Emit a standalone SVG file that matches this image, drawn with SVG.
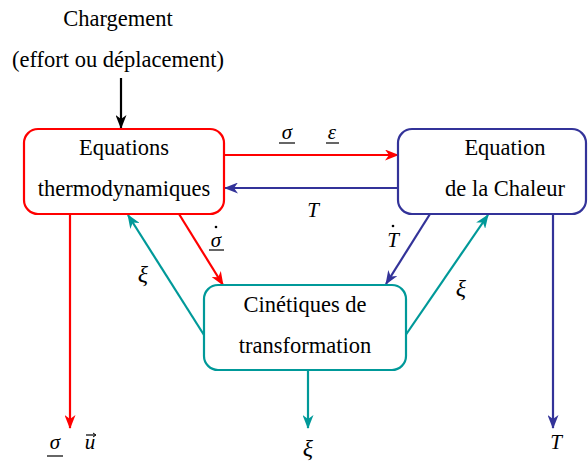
<svg xmlns="http://www.w3.org/2000/svg" width="588" height="462" viewBox="0 0 588 462">
<style>
.t{font-family:"Liberation Serif","Times New Roman",serif;font-size:22.5px;fill:#000;text-anchor:middle}
.m{font-family:"Liberation Serif","Times New Roman",serif;font-size:21px;font-style:italic;fill:#000;text-anchor:middle}
.x{font-size:24px}
.box{fill:#fff;stroke-width:2.2}
.ln{fill:none;stroke-width:2.2}
.ul{stroke:#000;stroke-width:1.2}
</style>
<defs>
<marker id="aK" viewBox="0 0 14 11" refX="13" refY="5.5" markerWidth="14" markerHeight="11" markerUnits="userSpaceOnUse" orient="auto"><path d="M0,0 L14,5.5 L0,11 L4,5.5 Z" fill="#000"/></marker>
<marker id="aR" viewBox="0 0 14 11" refX="13" refY="5.5" markerWidth="14" markerHeight="11" markerUnits="userSpaceOnUse" orient="auto"><path d="M0,0 L14,5.5 L0,11 L4,5.5 Z" fill="#ff0000"/></marker>
<marker id="aB" viewBox="0 0 14 11" refX="13" refY="5.5" markerWidth="14" markerHeight="11" markerUnits="userSpaceOnUse" orient="auto"><path d="M0,0 L14,5.5 L0,11 L4,5.5 Z" fill="#333399"/></marker>
<marker id="aT" viewBox="0 0 14 11" refX="13" refY="5.5" markerWidth="14" markerHeight="11" markerUnits="userSpaceOnUse" orient="auto"><path d="M0,0 L14,5.5 L0,11 L4,5.5 Z" fill="#009999"/></marker>
</defs>

<g id="chargement">
<text class="t" x="118" y="26">Chargement</text>
<text class="t" x="118" y="67">(effort ou déplacement)</text>
</g>

<g id="connectors">
<line class="ln" stroke="#000" x1="121" y1="78" x2="121" y2="128" marker-end="url(#aK)"/>
<line class="ln" stroke="#ff0000" x1="224" y1="155" x2="398" y2="155" marker-end="url(#aR)"/>
<line class="ln" stroke="#333399" x1="398" y1="188" x2="225" y2="188" marker-end="url(#aB)"/>
<line class="ln" stroke="#ff0000" x1="179" y1="214" x2="223" y2="285" marker-end="url(#aR)"/>
<line class="ln" stroke="#333399" x1="430" y1="214" x2="386" y2="284" marker-end="url(#aB)"/>
<line class="ln" stroke="#009999" x1="204" y1="335" x2="128" y2="215" marker-end="url(#aT)"/>
<line class="ln" stroke="#009999" x1="405" y1="336" x2="488" y2="215" marker-end="url(#aT)"/>
<line class="ln" stroke="#ff0000" x1="70" y1="214" x2="70" y2="428" marker-end="url(#aR)"/>
<line class="ln" stroke="#009999" x1="308" y1="370" x2="308" y2="428" marker-end="url(#aT)"/>
<line class="ln" stroke="#333399" x1="553" y1="214" x2="553" y2="428" marker-end="url(#aB)"/>
</g>

<g id="labels">
<text class="m" x="287" y="139">σ</text>
<line class="ul" x1="279" y1="143" x2="295" y2="143"/>
<text class="m" x="332" y="139">ε</text>
<line class="ul" x1="326" y1="143" x2="339" y2="143"/>
<text class="m" x="313" y="217">T</text>
<text class="m" x="216" y="247">σ</text>
<line class="ul" x1="209" y1="250" x2="224" y2="250"/>
<circle cx="216" cy="227" r="1.3" fill="#000"/>
<text class="m" x="393" y="247">T</text>
<circle cx="393" cy="226" r="1.3" fill="#000"/>
<text class="m x" x="143" y="282">ξ</text>
<text class="m x" x="461" y="296">ξ</text>
<text class="m" x="55" y="449">σ</text>
<line class="ul" x1="47" y1="456" x2="63" y2="456"/>
<text class="m" x="90" y="449">u</text>
<line class="ul" x1="86" y1="435" x2="95" y2="435"/>
<path d="M93,433 L96,435 L93,437" fill="none" stroke="#000" stroke-width="1"/>
<text class="m x" x="308" y="456">ξ</text>
<text class="m" x="556" y="449">T</text>
</g>

<g id="thermo">
<rect class="box" stroke="#ff0000" x="24" y="129" width="200" height="85" rx="14"/>
<text class="t" x="124" y="155">Equations</text>
<text class="t" x="124" y="196">thermodynamiques</text>
</g>

<g id="chaleur">
<rect class="box" stroke="#333399" x="398" y="129" width="188" height="85" rx="14"/>
<text class="t" x="505" y="155">Equation</text>
<text class="t" x="505" y="196">de la Chaleur</text>
</g>

<g id="cinetiques">
<rect class="box" stroke="#009999" x="204" y="285" width="202" height="85" rx="14"/>
<text class="t" x="305" y="312">Cinétiques de</text>
<text class="t" x="305" y="353">transformation</text>
</g>
</svg>
